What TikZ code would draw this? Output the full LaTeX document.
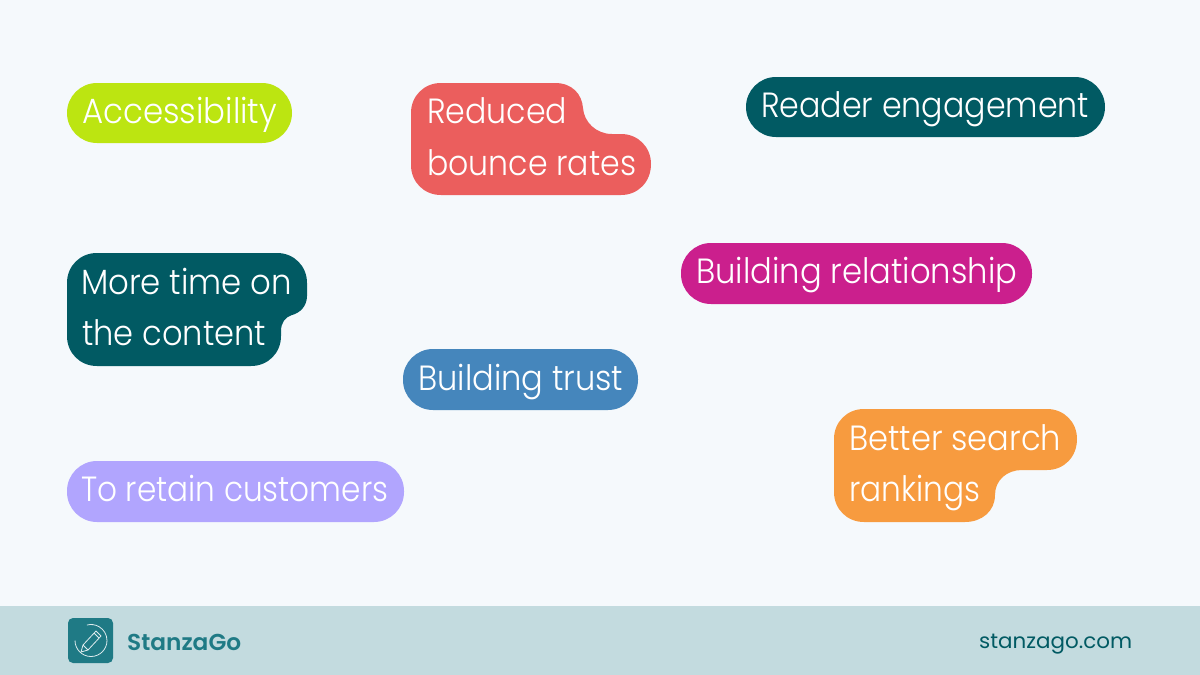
\documentclass[tikz,border=0pt]{standalone}
\usepackage{fontspec}
\usepackage{graphicx}
\setmainfont{Poppins Light}
\newfontfamily\bolder{Poppins SemiBold}
\newfontfamily\regf{Poppins}
\definecolor{bgc}{HTML}{F5F9FC}
\definecolor{footc}{HTML}{C3DBDF}
\definecolor{limec}{HTML}{BCE511}
\definecolor{redc}{HTML}{EB5E5D}
\definecolor{tealc}{HTML}{015A63}
\definecolor{pinkc}{HTML}{CB1F8D}
\definecolor{bluec}{HTML}{4586BC}
\definecolor{lilac}{HTML}{B1A5FE}
\definecolor{orangec}{HTML}{F79B3F}
\definecolor{logoc}{HTML}{1F7A85}
\newsavebox{\fwbox}
\newcommand{\fw}[2]{\sbox{\fwbox}{#2}\pgfmathsetmacro{\fwr}{#1/(\wd\fwbox/1pt)}\scalebox{\fwr}[1]{\usebox{\fwbox}}}
\tikzset{
 x=1pt,y=-1pt,
 lbl/.style={anchor=base west,inner sep=0pt,text=white,font=\fontsize{35}{35}\selectfont},
 pill/.style={rounded corners=30pt,inner sep=0pt},
}
\begin{document}
\begin{tikzpicture}
\useasboundingbox (0,0) rectangle (1200,675);
\fill[bgc] (0,0) rectangle (1200,675);
\fill[footc] (0,606) rectangle (1200,675);
% single-line pills
\fill[limec,pill] (67,83) rectangle (292,143);
\fill[tealc,pill] (746,77) rectangle (1105,137);
\fill[pinkc,pill] (681,243) rectangle (1032,304);
\fill[bluec,pill] (403,349) rectangle (638,410);
\fill[lilac,pill] (67,461) rectangle (404,522);
% Reduced bounce rates
\fill[redc] (441,83) -- (555,83) .. controls (572,83) and (582,94) .. (583,108)
 .. controls (584,122) and (596,134) .. (612,134) -- (621,134)
 .. controls (638,134) and (651,147) .. (651,164)
 .. controls (651,182) and (638,195) .. (621,195) -- (441,195)
 .. controls (424,195) and (411,182) .. (411,165) -- (411,113)
 .. controls (411,96) and (424,83) .. (441,83) -- cycle;
% More time on the content
\fill[tealc] (97,253) -- (277,253) .. controls (294,253) and (307,266) .. (307,283)
 -- (307,296) .. controls (307,306) and (300,313) .. (292,315)
 .. controls (285,317) and (281,323) .. (281,331) -- (281,336)
 .. controls (281,353) and (268,366) .. (251,366) -- (97,366)
 .. controls (80,366) and (67,353) .. (67,336) -- (67,283)
 .. controls (67,266) and (80,253) .. (97,253) -- cycle;
% Better search rankings
\fill[orangec] (864,409) -- (1047,409) .. controls (1064,409) and (1077,422) .. (1077,439)
 .. controls (1077,457) and (1064,470) .. (1047,470) -- (1022,470)
 .. controls (1007,470) and (995,480) .. (995,495)
 .. controls (995,511) and (982,522) .. (965,522) -- (864,522)
 .. controls (847,522) and (834,509) .. (834,492) -- (834,439)
 .. controls (834,422) and (847,409) .. (864,409) -- cycle;
% labels
\node[lbl] (t1) at (82,123.5) {\fw{195}{Accessibility}};
\node[lbl] (t2a) at (427,123.5) {\fw{140}{Reduced}};
\node[lbl] (t2b) at (427,175.5) {\fw{209}{bounce rates}};
\node[lbl] (t3) at (761,117) {\fw{328}{Reader engagement}};
\node[lbl] (t4) at (696,283.5) {\fw{321}{Building relationship}};
\node[lbl] (t5a) at (81,294.5) {\fw{211}{More time on}};
\node[lbl] (t5b) at (82,345.5) {\fw{184}{the content}};
\node[lbl] (t6) at (418,390) {\fw{205}{Building trust}};
\node[lbl] (t7a) at (849,450.5) {\fw{212}{Better search}};
\node[lbl] (t7b) at (849,501.5) {\fw{131}{rankings}};
\node[lbl] (t8) at (81,501.5) {\fw{307}{To retain customers}};
% footer
\fill[logoc,rounded corners=5pt] (68,618) rectangle (113,663);
\draw[white!85!logoc,line width=.8pt] (75,640.5) arc[start angle=180,end angle=-105,radius=16];
\draw[white!85!logoc,line width=.8pt,line join=round] (81,652) -- (83,645) -- (96,631) -- (101,636) -- (88,650) -- cycle;
\draw[white!85!logoc,line width=.8pt] (83,645) -- (88,650) (94,633) -- (99,638);
\node[anchor=base west,inner sep=0pt,text=logoc,font=\bolder\fontsize{23}{23}\selectfont] (brand) at (127,650) {\fw{114}{StanzaGo}};
\node[anchor=base west,inner sep=0pt,text=tealc,font=\regf\fontsize{21}{21}\selectfont] (site) at (979,648) {\fw{153}{stanzago.com}};
\end{tikzpicture}
\end{document}
